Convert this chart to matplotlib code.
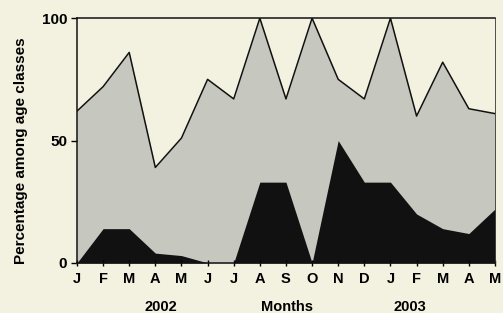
import numpy as np
import matplotlib
matplotlib.use('Agg')
import matplotlib.pyplot as plt

plt.rcParams['font.family'] = ['Liberation Sans', 'DejaVu Sans']

months = ['J', 'F', 'M', 'A', 'M', 'J', 'J', 'A', 'S', 'O', 'N', 'D',
          'J', 'F', 'M', 'A', 'M']
# upper line (total of the two classes) and lower black class, in %
total = [62, 72, 86, 39, 51, 75, 67, 100, 67, 100, 75, 67, 100, 60, 82, 63, 61]
lower = [0, 14, 14, 4, 3, 0, 0, 33, 33, 0, 50, 33, 33, 20, 14, 12, 22]
yticks = [0, 50, 100]

BG = '#f3f1e0'
GRAY = '#c6c7be'

x = np.arange(len(months))

fig = plt.figure(figsize=(5.03, 3.13), dpi=100, facecolor=BG)
ax = fig.add_axes([0.153, 0.160, 0.831, 0.782])
ax.set_facecolor(BG)

ax.fill_between(x, 0, total, color=GRAY, lw=0)
ax.fill_between(x, 0, lower, color='#111111', lw=0)
ax.plot(x, total, color='#111111', lw=1.1)

ax.set_xlim(0, len(months) - 1)
ax.set_ylim(0, 100)
ax.set_xticks(x)
ax.set_xticklabels(months, fontsize=10.5, fontweight='bold')
ax.set_yticks(yticks)
ax.set_yticklabels([str(v) for v in yticks], fontsize=11, fontweight='bold')
ax.tick_params(axis='x', direction='inout', length=5, width=1, pad=4)
ax.tick_params(axis='y', direction='out', length=4, width=1, pad=3)

for s in ['left', 'bottom', 'top']:
    ax.spines[s].set_linewidth(1.1)
    ax.spines[s].set_color('#111111')
ax.spines['right'].set_linewidth(0.6)
ax.spines['right'].set_color('#333333')

ax.set_ylabel('Percentage among age classes', fontsize=11, fontweight='bold')
ax.yaxis.set_label_coords(-0.117, 0.46)

fig.text(160.7 / 503, 1 - 306.7 / 313, '2002', ha='center', va='center',
         fontsize=10.5, fontweight='bold')
fig.text(286.7 / 503, 1 - 306.7 / 313, 'Months', ha='center', va='center',
         fontsize=10.5, fontweight='bold')
fig.text(410 / 503, 1 - 306.7 / 313, '2003', ha='center', va='center',
         fontsize=10.5, fontweight='bold')

fig.savefig('out.png', dpi=100, facecolor=BG)
